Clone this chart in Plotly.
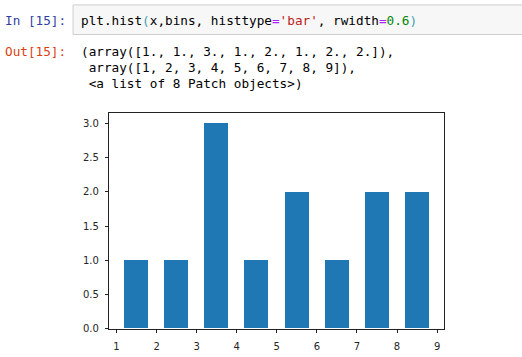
import plotly.graph_objects as go

# ---- data ----
counts = [1, 1, 3, 1, 2, 1, 2, 2]
bin_edges = [1, 2, 3, 4, 5, 6, 7, 8, 9]
rwidth = 0.6
x_ticks = [1, 2, 3, 4, 5, 6, 7, 8, 9]
y_ticks = [0.0, 0.5, 1.0, 1.5, 2.0, 2.5, 3.0]

centers = [(bin_edges[i] + bin_edges[i + 1]) / 2 for i in range(len(counts))]
widths = [(bin_edges[i + 1] - bin_edges[i]) * rwidth for i in range(len(counts))]

W, H = 522, 357
def px(x): return x / W
def py(y): return 1 - y / H

MONO = "DejaVu Sans Mono"
FS = 12.7

fig = go.Figure()
fig.add_trace(go.Bar(x=centers, y=counts, width=widths,
                     marker=dict(color="#1f77b4", line=dict(width=0)),
                     showlegend=False, hoverinfo="skip"))

fig.update_layout(
    width=W, height=H,
    margin=dict(l=0, r=0, t=0, b=0),
    paper_bgcolor="white", plot_bgcolor="white",
    xaxis=dict(domain=[px(109.3), px(444.3)], range=[0.82, 9.18],
               tickmode="array", tickvals=x_ticks, ticktext=[str(t) for t in x_ticks],
               showgrid=False, zeroline=False, showline=True, mirror=True,
               linecolor="#222", linewidth=1, ticks="outside", ticklen=3.5,
               tickcolor="#222", tickwidth=1, ticklabelstandoff=5,
               tickfont=dict(family="DejaVu Sans", size=10, color="#262626"),
               anchor="y", fixedrange=True),
    yaxis=dict(domain=[py(333.3), py(115)], range=[0, 3.15],
               tickmode="array", tickvals=y_ticks, ticktext=[f"{t:.1f}" for t in y_ticks],
               showgrid=False, zeroline=False, showline=True, mirror=True,
               linecolor="#222", linewidth=1, ticks="outside", ticklen=3.5,
               tickcolor="#222", tickwidth=1, ticklabelstandoff=4,
               tickfont=dict(family="DejaVu Sans", size=10, color="#262626"),
               anchor="x", fixedrange=True),
    bargap=0,
)

# code cell box
fig.add_shape(type="rect", xref="paper", yref="paper",
              x0=px(73), x1=px(540), y0=py(35), y1=py(5),
              fillcolor="#f7f7f7", line=dict(color="#cfcfcf", width=1), layer="below")

def ann(text, x, y, color="#000", anchor="left"):
    fig.add_annotation(text=text, x=px(x), y=py(y), xref="paper", yref="paper",
                       xanchor=anchor, yanchor="middle", showarrow=False,
                       font=dict(family=MONO, size=FS, color=color), borderpad=0)

code = ('plt.hist<span style="color:#3f9fb0">(</span>x,bins, histtype'
        '<span style="color:#aa22ff">=</span><span style="color:#ba2121">\'bar\'</span>, rwidth'
        '<span style="color:#aa22ff">=</span><span style="color:#008800">0.6</span>'
        '<span style="color:#3f9fb0">)</span>')
ann("In [15]:", 67, 20.5, color="#303f9f", anchor="right")
ann(code, 80, 20.5, color="#000")
ann("Out[15]:", 67, 52, color="#d84315", anchor="right")
ann("(array([1., 1., 3., 1., 2., 1., 2., 2.]),", 80, 52)
ann(" array([1, 2, 3, 4, 5, 6, 7, 8, 9]),", 80, 68.2)
ann(" &lt;a list of 8 Patch objects&gt;)", 80, 84.2)

fig.write_html("out.html", config={"displayModeBar": False},
               post_script="document.body.style.margin='0';document.body.style.overflow='hidden';")
